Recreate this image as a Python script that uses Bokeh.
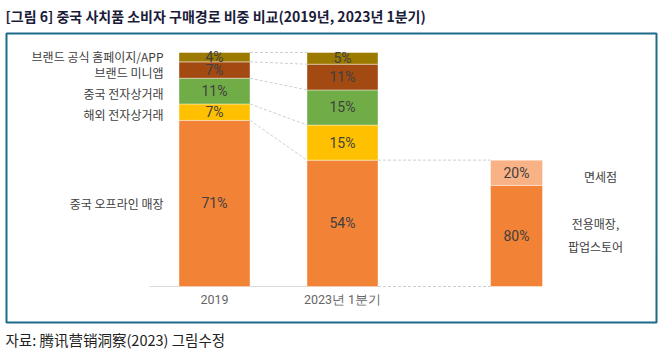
from bokeh.plotting import figure
from bokeh.models import Range1d, ColumnDataSource
from bokeh.core.properties import value
from bokeh.embed import file_html
from bokeh.resources import INLINE

# ---- data ----
channels = ["중국 오프라인 매장", "해외 전자상거래", "중국 전자상거래", "브랜드 미니앱", "브랜드 공식 홈페이지/APP"]
share_2019 = [71, 7, 11, 7, 4]
share_2023 = [54, 15, 15, 11, 5]
period_labels = ["2019", "2023년 1분기"]
offline_sub = ["전용매장,\n팝업스토어", "면세점"]
offline_sub_share = [80, 20]
colors = ["#F28236", "#FFC000", "#70AD47", "#A34A12", "#9C7A00"]
sub_colors = ["#F28236", "#F8B285"]

title_text = "[그림 6] 중국 사치품 소비자 구매경로 비중 비교(2019년, 2023년 1분기)"
source_text = "자료: 腾讯营销洞察(2023) 그림수정"

FONT = "Noto Sans CJK KR"

# ---- geometry (pixel layout) ----
W, H = 660, 350
BASE_PX, TOP_PX = 286, 52
px_per_pct = (BASE_PX - TOP_PX) / 100.0

p = figure(width=W, height=H, output_backend="svg", toolbar_location=None,
           x_range=Range1d(0, W), y_range=Range1d(H, 0),
           min_border=0, min_border_left=0, min_border_right=0,
           min_border_top=0, min_border_bottom=0)
p.axis.visible = False
p.grid.visible = False
p.outline_line_color = None
p.background_fill_color = "white"
p.border_fill_color = "white"
p.extra_y_ranges = {"pct": Range1d(-(H - BASE_PX) / px_per_pct, BASE_PX / px_per_pct)}

# frame box
p.quad(left=[6], right=[656], top=[33], bottom=[322], fill_color=None,
       line_color="#1D6B8A", line_width=2)

# title & source
p.text(x=[5], y=[15], text=[title_text], text_font=value(FONT), text_font_size="14px",
       text_color="#1B1B3A", text_baseline="middle", text_align="left", text_font_style="bold")
p.text(x=[5], y=[339], text=[source_text], text_font=value(FONT), text_font_size="14.5px",
       text_color="#222222", text_baseline="middle", text_align="left")

bar_x = [(178.5, 249.5), (306.5, 377.5)]
series = [share_2019, share_2023]

# baseline
p.segment(x0=[149], x1=[bar_x[1][1]], y0=[BASE_PX], y1=[BASE_PX], line_color="#D9D9D9", line_width=1)

def cum(vals):
    out, s = [], 0
    for v in vals:
        out.append((s, s + v))
        s += v
    return out

stacks = [cum(s) for s in series]

for (l, r), vals, st in zip(bar_x, series, stacks):
    src = ColumnDataSource(dict(
        left=[l] * len(vals), right=[r] * len(vals),
        bottom=[a for a, b in st], top=[b for a, b in st], color=colors,
        mid=[(a + b) / 2 for a, b in st], lab=[f"{v}%" for v in vals],
        xc=[(l + r) / 2] * len(vals)))
    p.quad(left="left", right="right", bottom="bottom", top="top", fill_color="color",
           line_color="white", line_alpha=0.5, line_width=0.8, source=src, y_range_name="pct")
    p.text(x="xc", y="mid", text="lab", source=src, y_range_name="pct",
           text_font=value("Roboto"), text_font_size="14px", text_color="#404040",
           text_align="center", text_baseline="middle")

# connectors between bar 1 and bar 2
for (a1, b1), (a2, b2) in zip(stacks[0], stacks[1]):
    p.segment(x0=[bar_x[0][1]], x1=[bar_x[1][0]], y0=[b1], y1=[b2], y_range_name="pct",
              line_color="#CFCFCF", line_width=1, line_dash="3 2")

# breakdown bar of 2023 offline
offline = share_2023[0]
l3, r3 = 490, 542
sub_st = cum([offline * s / 100.0 for s in offline_sub_share])
src3 = ColumnDataSource(dict(
    left=[l3] * 2, right=[r3] * 2, bottom=[a for a, b in sub_st], top=[b for a, b in sub_st],
    color=sub_colors, mid=[(a + b) / 2 for a, b in sub_st],
    lab=[f"{v}%" for v in offline_sub_share], xc=[(l3 + r3) / 2] * 2))
p.quad(left="left", right="right", bottom="bottom", top="top", fill_color="color",
       line_color="white", line_alpha=0.5, line_width=0.8, source=src3, y_range_name="pct")
p.text(x="xc", y="mid", text="lab", source=src3, y_range_name="pct",
       text_font=value("Roboto"), text_font_size="14px", text_color="#404040",
       text_align="center", text_baseline="middle")
p.segment(x0=[bar_x[1][1]], x1=[l3], y0=[offline], y1=[offline], y_range_name="pct",
          line_color="#CFCFCF", line_width=1, line_dash="3 2")
p.segment(x0=[bar_x[1][1]], x1=[l3], y0=[0], y1=[0], y_range_name="pct",
          line_color="#CFCFCF", line_width=1, line_dash="3 2")

# sub labels on right
sub_y = [(sub_st[0][0] + sub_st[0][1]) / 2, (sub_st[1][0] + sub_st[1][1]) / 2]
p.text(x=[595, 600], y=sub_y, text=offline_sub, y_range_name="pct",
       text_font=value(FONT), text_font_size="12px", text_color="#404040",
       text_align="center", text_baseline="middle", text_line_height=1.35, y_offset=[-1, 4])

# left category labels
mids = [(a + b) / 2 for a, b in stacks[0]]
p.text(x=[163] * len(channels), y=mids, text=channels, y_range_name="pct",
       text_font=value(FONT), text_font_size="12px", text_color="#404040",
       text_align="right", text_baseline="middle", y_offset=[0, 2, 2, 2.5, -0.5])

# period labels
p.text(x=[(l + r) / 2 for l, r in bar_x], y=[299, 299], text=period_labels,
       text_font=value("Roboto"), text_font_size="12.5px", text_color="#666666",
       text_align="center", text_baseline="middle")

open("out.html", "w").write(file_html(p, INLINE))
